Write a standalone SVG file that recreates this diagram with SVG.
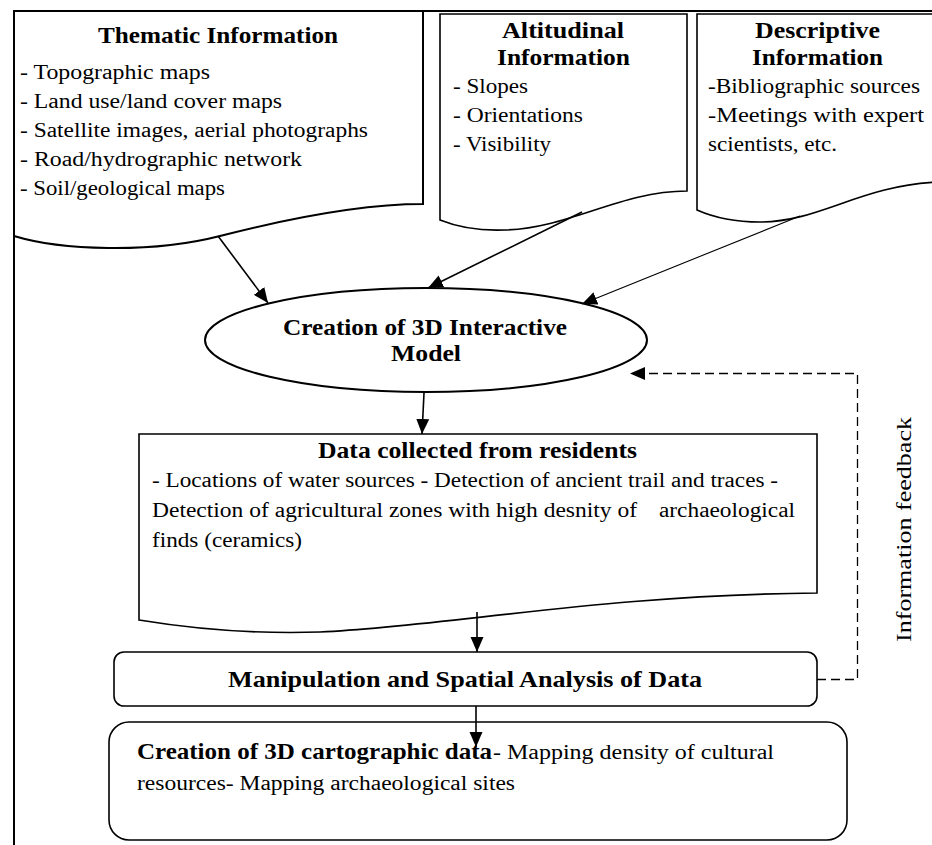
<svg xmlns="http://www.w3.org/2000/svg" width="932" height="845" viewBox="0 0 932 845">
<style>
.shape{fill:#fff;stroke:#000;stroke-width:1.6}
.t{font-family:"Liberation Serif","Times New Roman",serif;font-size:24px;font-weight:bold;fill:#000}
.b{font-family:"Liberation Serif","Times New Roman",serif;font-size:20px;fill:#000}
.c{fill:none;stroke:#000;stroke-width:1.6}
.d{fill:none;stroke:#000;stroke-width:1.3;stroke-dasharray:9,5}
</style>
<defs>
<marker id="ah" markerUnits="userSpaceOnUse" markerWidth="16" markerHeight="14" refX="15" refY="6.5" orient="auto">
<path d="M0,0 L15,6.5 L0,13 Z" fill="#000"/>
</marker>
</defs>
<rect width="932" height="845" fill="#fff"/>
<g id="frame"><path d="M932,11 H14 V845" fill="none" stroke="#000" stroke-width="2"/></g>

<g id="thematic">
<path class="shape" style="stroke-width:2" d="M14,11 H423 V204 C360,204 290,218 220,236 C150,254 60,250 14,236 Z"/>
<text class="t" x="98" y="43" textLength="240" lengthAdjust="spacingAndGlyphs">Thematic Information</text>
<text class="b" x="20" y="79" textLength="190" lengthAdjust="spacingAndGlyphs">- Topographic maps</text>
<text class="b" x="20" y="108" textLength="262" lengthAdjust="spacingAndGlyphs">- Land use/land cover maps</text>
<text class="b" x="20" y="137" textLength="348" lengthAdjust="spacingAndGlyphs">- Satellite images, aerial photographs</text>
<text class="b" x="20" y="166" textLength="282" lengthAdjust="spacingAndGlyphs">- Road/hydrographic network</text>
<text class="b" x="20" y="195" textLength="205" lengthAdjust="spacingAndGlyphs">- Soil/geological maps</text>
</g>

<g id="altitudinal">
<path class="shape" d="M440,14 H687 V191 C620,191 570,228 505,230 C480,231 460,228 440,220 Z"/>
<text class="t" x="502" y="38" textLength="122" lengthAdjust="spacingAndGlyphs">Altitudinal</text>
<text class="t" x="497" y="65" textLength="133" lengthAdjust="spacingAndGlyphs">Information</text>
<text class="b" x="453" y="93" textLength="75" lengthAdjust="spacingAndGlyphs">- Slopes</text>
<text class="b" x="453" y="122" textLength="130" lengthAdjust="spacingAndGlyphs">- Orientations</text>
<text class="b" x="453" y="151" textLength="98" lengthAdjust="spacingAndGlyphs">- Visibility</text>
</g>

<g id="descriptive">
<path class="shape" d="M697,14 H940 V182 C860,185 820,222 760,222 C735,222 715,218 697,210 Z"/>
<text class="t" x="755" y="38" textLength="125" lengthAdjust="spacingAndGlyphs">Descriptive</text>
<text class="t" x="752" y="65" textLength="131" lengthAdjust="spacingAndGlyphs">Information</text>
<text class="b" x="708" y="93" textLength="212" lengthAdjust="spacingAndGlyphs">-Bibliographic sources</text>
<text class="b" x="708" y="122" textLength="216" lengthAdjust="spacingAndGlyphs">-Meetings with expert</text>
<text class="b" x="708" y="151" textLength="129" lengthAdjust="spacingAndGlyphs">scientists, etc.</text>
</g>

<g id="model">
<ellipse class="shape" style="stroke-width:2" cx="426" cy="340" rx="221" ry="52"/>
<text class="t" x="283" y="335" textLength="284" lengthAdjust="spacingAndGlyphs">Creation of 3D Interactive</text>
<text class="t" x="391" y="361" textLength="70" lengthAdjust="spacingAndGlyphs">Model</text>
</g>

<g id="residents">
<path class="shape" d="M139,434 H817 V593 C600,595 450,626 320,632 C260,634 200,630 139,620 Z"/>
<text class="t" x="318" y="458" textLength="319" lengthAdjust="spacingAndGlyphs">Data collected from residents</text>
<text class="b" x="152" y="487" textLength="626" lengthAdjust="spacingAndGlyphs">- Locations of water sources - Detection of ancient trail and traces -</text>
<text class="b" x="152" y="517" textLength="485" lengthAdjust="spacingAndGlyphs">Detection of agricultural zones with high desnity of</text>
<text class="b" x="659" y="517" textLength="136" lengthAdjust="spacingAndGlyphs">archaeological</text>
<text class="b" x="152" y="547" textLength="150" lengthAdjust="spacingAndGlyphs">finds (ceramics)</text>
</g>

<g id="analysis">
<rect class="shape" x="114" y="652" width="703" height="54" rx="10" ry="10"/>
<text class="t" x="228" y="687" textLength="474" lengthAdjust="spacingAndGlyphs">Manipulation and Spatial Analysis of Data</text>
</g>

<g id="cartographic">
<rect class="shape" x="109" y="722" width="738" height="118" rx="20" ry="20"/>
<text class="t" x="137" y="759" textLength="355" lengthAdjust="spacingAndGlyphs">Creation of 3D cartographic data</text>
<text class="b" x="493" y="759" textLength="281" lengthAdjust="spacingAndGlyphs">- Mapping density of cultural</text>
<text class="b" x="137" y="790" textLength="378" lengthAdjust="spacingAndGlyphs">resources- Mapping archaeological sites</text>
</g>

<g id="feedback-label">
<text class="b" style="font-size:22px" text-anchor="middle" transform="translate(911,529.5) rotate(-90)" textLength="225" lengthAdjust="spacingAndGlyphs">Information feedback</text>
</g>

<g id="connectors">
<line class="c" x1="218" y1="236" x2="268" y2="303" marker-end="url(#ah)"/>
<line class="c" x1="582" y1="212" x2="428" y2="288" marker-end="url(#ah)"/>
<line class="c" style="stroke-width:1.1" x1="800" y1="216" x2="582" y2="304" marker-end="url(#ah)"/>
<line class="c" x1="424" y1="393" x2="422" y2="434" marker-end="url(#ah)"/>
<line class="c" x1="477" y1="612" x2="477" y2="652" marker-end="url(#ah)"/>
<line class="c" x1="476" y1="706" x2="476" y2="747" marker-end="url(#ah)"/>
<path class="d" d="M817,679.5 H857.5 V373.5 H630" marker-end="url(#ah)"/>
</g>
</svg>
